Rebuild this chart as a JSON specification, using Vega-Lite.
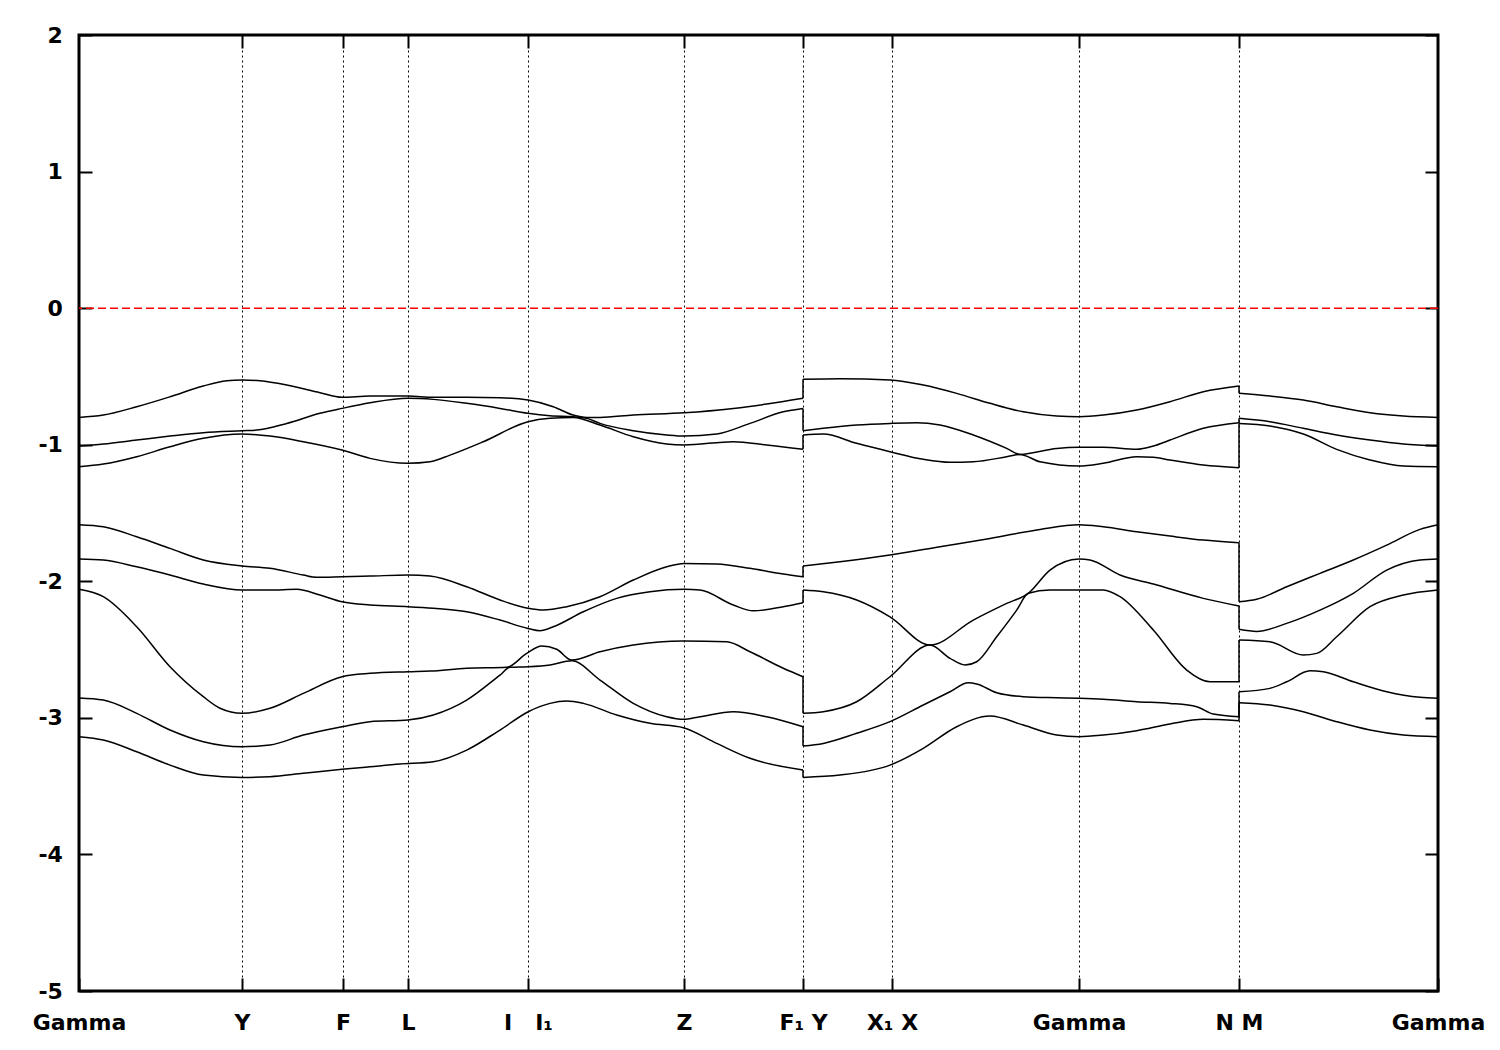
{
"$schema": "https://vega.github.io/schema/vega-lite/v6.json",
"width": 1359, "height": 956,
"autosize": {"type": "none"},
"padding": {"left": 79, "top": 35, "right": 62, "bottom": 59},
"background": "white",
"config": {
 "view": {"stroke": "black", "strokeWidth": 3},
 "axis": {"labelFont": "DejaVu Sans", "labelFontSize": 22, "labelFontWeight": "bold", "labelColor": "black", "tickColor": "black", "tickWidth": 2, "tickSize": -13, "domain": false, "grid": false, "labelFlush": false, "labelOverlap": false, "labelBound": false}
},
"datasets": {
"jumps": [
{"b":1,"k":7.24,"e1":-0.660,"e2":-0.521},{"b":1,"k":11.6,"e1":-0.570,"e2":-0.624},
{"b":2,"k":7.24,"e1":-0.734,"e2":-0.898},{"b":2,"k":11.6,"e1":-0.839,"e2":-0.807},
{"b":3,"k":7.24,"e1":-1.034,"e2":-0.929},{"b":3,"k":11.6,"e1":-1.169,"e2":-0.844},
{"b":4,"k":7.24,"e1":-1.967,"e2":-1.888},{"b":4,"k":11.6,"e1":-1.718,"e2":-2.150},
{"b":5,"k":7.24,"e1":-2.157,"e2":-2.064},{"b":5,"k":11.6,"e1":-2.181,"e2":-2.352},
{"b":6,"k":7.24,"e1":-2.699,"e2":-2.967},{"b":6,"k":11.6,"e1":-2.736,"e2":-2.430},
{"b":7,"k":7.24,"e1":-3.065,"e2":-3.206},{"b":7,"k":11.6,"e1":-2.992,"e2":-2.809},
{"b":8,"k":7.24,"e1":-3.382,"e2":-3.436},{"b":8,"k":11.6,"e1":-3.021,"e2":-2.889}
],
"bands": [
{"b":1,"s":1,"k":0,"e":-0.800},{"b":1,"s":1,"k":0.243,"e":-0.783},{"b":1,"s":1,"k":0.577,"e":-0.722},{"b":1,"s":1,"k":0.91,"e":-0.649},{"b":1,"s":1,"k":1.243,"e":-0.570},{"b":1,"s":1,"k":1.477,"e":-0.532},{"b":1,"s":1,"k":1.63,"e":-0.526},{"b":1,"s":1,"k":1.81,"e":-0.532},{"b":1,"s":1,"k":2.077,"e":-0.563},{"b":1,"s":1,"k":2.41,"e":-0.619},{"b":1,"s":1,"k":2.63,"e":-0.653},{"b":1,"s":1,"k":2.91,"e":-0.644},{"b":1,"s":1,"k":3.29,"e":-0.644},{"b":1,"s":1,"k":3.543,"e":-0.653},{"b":1,"s":1,"k":3.877,"e":-0.653},{"b":1,"s":1,"k":4.21,"e":-0.656},{"b":1,"s":1,"k":4.49,"e":-0.673},{"b":1,"s":1,"k":4.743,"e":-0.722},{"b":1,"s":1,"k":4.94,"e":-0.783},{"b":1,"s":1,"k":5.08,"e":-0.801},{"b":1,"s":1,"k":5.21,"e":-0.800},{"b":1,"s":1,"k":5.543,"e":-0.783},{"b":1,"s":1,"k":6.05,"e":-0.766},{"b":1,"s":1,"k":6.543,"e":-0.734},{"b":1,"s":1,"k":6.877,"e":-0.702},{"b":1,"s":1,"k":7.24,"e":-0.660},
{"b":1,"s":2,"k":7.24,"e":-0.521},{"b":1,"s":2,"k":7.61,"e":-0.517},{"b":1,"s":2,"k":8.11,"e":-0.526},{"b":1,"s":2,"k":8.443,"e":-0.563},{"b":1,"s":2,"k":8.777,"e":-0.624},{"b":1,"s":2,"k":9.11,"e":-0.697},{"b":1,"s":2,"k":9.443,"e":-0.759},{"b":1,"s":2,"k":9.777,"e":-0.790},{"b":1,"s":2,"k":10.0,"e":-0.795},{"b":1,"s":2,"k":10.243,"e":-0.783},{"b":1,"s":2,"k":10.577,"e":-0.746},{"b":1,"s":2,"k":10.91,"e":-0.685},{"b":1,"s":2,"k":11.243,"e":-0.612},{"b":1,"s":2,"k":11.6,"e":-0.570},
{"b":1,"s":3,"k":11.6,"e":-0.624},{"b":1,"s":3,"k":11.91,"e":-0.644},{"b":1,"s":3,"k":12.243,"e":-0.673},{"b":1,"s":3,"k":12.577,"e":-0.722},{"b":1,"s":3,"k":12.91,"e":-0.766},{"b":1,"s":3,"k":13.243,"e":-0.790},{"b":1,"s":3,"k":13.59,"e":-0.800},
{"b":2,"s":1,"k":0,"e":-1.010},{"b":2,"s":1,"k":0.243,"e":-0.995},{"b":2,"s":1,"k":0.577,"e":-0.966},{"b":2,"s":1,"k":0.91,"e":-0.937},{"b":2,"s":1,"k":1.243,"e":-0.912},{"b":2,"s":1,"k":1.63,"e":-0.898},{"b":2,"s":1,"k":1.777,"e":-0.893},{"b":2,"s":1,"k":2.077,"e":-0.844},{"b":2,"s":1,"k":2.41,"e":-0.770},{"b":2,"s":1,"k":2.63,"e":-0.734},{"b":2,"s":1,"k":2.91,"e":-0.693},{"b":2,"s":1,"k":3.29,"e":-0.660},{"b":2,"s":1,"k":3.543,"e":-0.668},{"b":2,"s":1,"k":3.877,"e":-0.697},{"b":2,"s":1,"k":4.21,"e":-0.734},{"b":2,"s":1,"k":4.49,"e":-0.770},{"b":2,"s":1,"k":4.71,"e":-0.788},{"b":2,"s":1,"k":4.943,"e":-0.795},{"b":2,"s":1,"k":5.08,"e":-0.807},{"b":2,"s":1,"k":5.21,"e":-0.844},{"b":2,"s":1,"k":5.543,"e":-0.898},{"b":2,"s":1,"k":5.877,"e":-0.929},{"b":2,"s":1,"k":6.05,"e":-0.937},{"b":2,"s":1,"k":6.377,"e":-0.922},{"b":2,"s":1,"k":6.71,"e":-0.844},{"b":2,"s":1,"k":7.043,"e":-0.759},{"b":2,"s":1,"k":7.24,"e":-0.734},
{"b":2,"s":2,"k":7.24,"e":-0.898},{"b":2,"s":2,"k":7.443,"e":-0.880},{"b":2,"s":2,"k":7.777,"e":-0.856},{"b":2,"s":2,"k":8.11,"e":-0.844},{"b":2,"s":2,"k":8.377,"e":-0.839},{"b":2,"s":2,"k":8.61,"e":-0.856},{"b":2,"s":2,"k":8.943,"e":-0.929},{"b":2,"s":2,"k":9.277,"e":-1.027},{"b":2,"s":2,"k":9.41,"e":-1.071},{"b":2,"s":2,"k":9.777,"e":-1.027},{"b":2,"s":2,"k":10.0,"e":-1.019},{"b":2,"s":2,"k":10.243,"e":-1.019},{"b":2,"s":2,"k":10.577,"e":-1.034},{"b":2,"s":2,"k":10.743,"e":-1.010},{"b":2,"s":2,"k":10.91,"e":-0.966},{"b":2,"s":2,"k":11.243,"e":-0.880},{"b":2,"s":2,"k":11.6,"e":-0.839},
{"b":2,"s":3,"k":11.6,"e":-0.807},{"b":2,"s":3,"k":11.91,"e":-0.832},{"b":2,"s":3,"k":12.243,"e":-0.880},{"b":2,"s":3,"k":12.577,"e":-0.929},{"b":2,"s":3,"k":12.91,"e":-0.966},{"b":2,"s":3,"k":13.243,"e":-0.995},{"b":2,"s":3,"k":13.59,"e":-1.010},
{"b":3,"s":1,"k":0,"e":-1.161},{"b":3,"s":1,"k":0.243,"e":-1.142},{"b":3,"s":1,"k":0.577,"e":-1.088},{"b":3,"s":1,"k":0.91,"e":-1.015},{"b":3,"s":1,"k":1.243,"e":-0.953},{"b":3,"s":1,"k":1.63,"e":-0.922},{"b":3,"s":1,"k":1.91,"e":-0.937},{"b":3,"s":1,"k":2.243,"e":-0.978},{"b":3,"s":1,"k":2.63,"e":-1.039},{"b":3,"s":1,"k":2.91,"e":-1.100},{"b":3,"s":1,"k":3.29,"e":-1.136},{"b":3,"s":1,"k":3.51,"e":-1.125},{"b":3,"s":1,"k":3.71,"e":-1.076},{"b":3,"s":1,"k":4.043,"e":-0.978},{"b":3,"s":1,"k":4.49,"e":-0.832},{"b":3,"s":1,"k":4.71,"e":-0.807},{"b":3,"s":1,"k":4.943,"e":-0.800},{"b":3,"s":1,"k":5.21,"e":-0.856},{"b":3,"s":1,"k":5.543,"e":-0.942},{"b":3,"s":1,"k":5.877,"e":-0.995},{"b":3,"s":1,"k":6.05,"e":-1.002},{"b":3,"s":1,"k":6.543,"e":-0.978},{"b":3,"s":1,"k":6.877,"e":-1.002},{"b":3,"s":1,"k":7.24,"e":-1.034},
{"b":3,"s":2,"k":7.24,"e":-0.929},{"b":3,"s":2,"k":7.443,"e":-0.922},{"b":3,"s":2,"k":7.777,"e":-0.990},{"b":3,"s":2,"k":8.11,"e":-1.051},{"b":3,"s":2,"k":8.443,"e":-1.107},{"b":3,"s":2,"k":8.71,"e":-1.129},{"b":3,"s":2,"k":8.943,"e":-1.125},{"b":3,"s":2,"k":9.277,"e":-1.088},{"b":3,"s":2,"k":9.41,"e":-1.071},{"b":3,"s":2,"k":9.61,"e":-1.125},{"b":3,"s":2,"k":10.0,"e":-1.156},{"b":3,"s":2,"k":10.243,"e":-1.136},{"b":3,"s":2,"k":10.577,"e":-1.088},{"b":3,"s":2,"k":10.743,"e":-1.092},{"b":3,"s":2,"k":10.91,"e":-1.112},{"b":3,"s":2,"k":11.243,"e":-1.149},{"b":3,"s":2,"k":11.6,"e":-1.169},
{"b":3,"s":3,"k":11.6,"e":-0.844},{"b":3,"s":3,"k":11.91,"e":-0.863},{"b":3,"s":3,"k":12.243,"e":-0.922},{"b":3,"s":3,"k":12.577,"e":-1.034},{"b":3,"s":3,"k":12.91,"e":-1.112},{"b":3,"s":3,"k":13.243,"e":-1.156},{"b":3,"s":3,"k":13.59,"e":-1.161},
{"b":4,"s":1,"k":0,"e":-1.586},{"b":4,"s":1,"k":0.243,"e":-1.601},{"b":4,"s":1,"k":0.577,"e":-1.674},{"b":4,"s":1,"k":0.91,"e":-1.759},{"b":4,"s":1,"k":1.243,"e":-1.844},{"b":4,"s":1,"k":1.63,"e":-1.888},{"b":4,"s":1,"k":1.91,"e":-1.905},{"b":4,"s":1,"k":2.243,"e":-1.954},{"b":4,"s":1,"k":2.377,"e":-1.971},{"b":4,"s":1,"k":2.63,"e":-1.967},{"b":4,"s":1,"k":2.91,"e":-1.962},{"b":4,"s":1,"k":3.29,"e":-1.954},{"b":4,"s":1,"k":3.51,"e":-1.962},{"b":4,"s":1,"k":3.877,"e":-2.040},{"b":4,"s":1,"k":4.21,"e":-2.137},{"b":4,"s":1,"k":4.49,"e":-2.198},{"b":4,"s":1,"k":4.643,"e":-2.211},{"b":4,"s":1,"k":4.877,"e":-2.186},{"b":4,"s":1,"k":5.21,"e":-2.113},{"b":4,"s":1,"k":5.543,"e":-1.991},{"b":4,"s":1,"k":5.877,"e":-1.894},{"b":4,"s":1,"k":6.05,"e":-1.869},{"b":4,"s":1,"k":6.377,"e":-1.874},{"b":4,"s":1,"k":6.71,"e":-1.905},{"b":4,"s":1,"k":7.043,"e":-1.947},{"b":4,"s":1,"k":7.24,"e":-1.967},
{"b":4,"s":2,"k":7.24,"e":-1.888},{"b":4,"s":2,"k":7.61,"e":-1.857},{"b":4,"s":2,"k":8.11,"e":-1.808},{"b":4,"s":2,"k":8.61,"e":-1.747},{"b":4,"s":2,"k":9.11,"e":-1.686},{"b":4,"s":2,"k":9.61,"e":-1.620},{"b":4,"s":2,"k":10.0,"e":-1.586},{"b":4,"s":2,"k":10.243,"e":-1.601},{"b":4,"s":2,"k":10.577,"e":-1.637},{"b":4,"s":2,"k":10.91,"e":-1.669},{"b":4,"s":2,"k":11.243,"e":-1.698},{"b":4,"s":2,"k":11.6,"e":-1.718},
{"b":4,"s":3,"k":11.6,"e":-2.150},{"b":4,"s":3,"k":11.777,"e":-2.132},{"b":4,"s":3,"k":12.077,"e":-2.040},{"b":4,"s":3,"k":12.41,"e":-1.942},{"b":4,"s":3,"k":12.743,"e":-1.844},{"b":4,"s":3,"k":13.077,"e":-1.735},{"b":4,"s":3,"k":13.41,"e":-1.620},{"b":4,"s":3,"k":13.59,"e":-1.586},
{"b":5,"s":1,"k":0,"e":-1.837},{"b":5,"s":1,"k":0.243,"e":-1.844},{"b":5,"s":1,"k":0.577,"e":-1.894},{"b":5,"s":1,"k":0.91,"e":-1.954},{"b":5,"s":1,"k":1.243,"e":-2.020},{"b":5,"s":1,"k":1.63,"e":-2.064},{"b":5,"s":1,"k":1.91,"e":-2.064},{"b":5,"s":1,"k":2.177,"e":-2.059},{"b":5,"s":1,"k":2.41,"e":-2.101},{"b":5,"s":1,"k":2.63,"e":-2.150},{"b":5,"s":1,"k":2.91,"e":-2.174},{"b":5,"s":1,"k":3.29,"e":-2.186},{"b":5,"s":1,"k":3.543,"e":-2.198},{"b":5,"s":1,"k":3.877,"e":-2.223},{"b":5,"s":1,"k":4.21,"e":-2.284},{"b":5,"s":1,"k":4.49,"e":-2.345},{"b":5,"s":1,"k":4.61,"e":-2.362},{"b":5,"s":1,"k":4.743,"e":-2.333},{"b":5,"s":1,"k":5.043,"e":-2.223},{"b":5,"s":1,"k":5.377,"e":-2.125},{"b":5,"s":1,"k":5.71,"e":-2.077},{"b":5,"s":1,"k":6.05,"e":-2.059},{"b":5,"s":1,"k":6.21,"e":-2.064},{"b":5,"s":1,"k":6.543,"e":-2.174},{"b":5,"s":1,"k":6.743,"e":-2.216},{"b":5,"s":1,"k":7.043,"e":-2.186},{"b":5,"s":1,"k":7.24,"e":-2.157},
{"b":5,"s":2,"k":7.24,"e":-2.064},{"b":5,"s":2,"k":7.443,"e":-2.077},{"b":5,"s":2,"k":7.777,"e":-2.137},{"b":5,"s":2,"k":8.11,"e":-2.260},{"b":5,"s":2,"k":8.51,"e":-2.467},{"b":5,"s":2,"k":8.943,"e":-2.284},{"b":5,"s":2,"k":9.277,"e":-2.162},{"b":5,"s":2,"k":9.493,"e":-2.088},{"b":5,"s":2,"k":9.71,"e":-1.918},{"b":5,"s":2,"k":10.0,"e":-1.837},{"b":5,"s":2,"k":10.11,"e":-1.844},{"b":5,"s":2,"k":10.41,"e":-1.954},{"b":5,"s":2,"k":10.743,"e":-2.020},{"b":5,"s":2,"k":11.243,"e":-2.125},{"b":5,"s":2,"k":11.6,"e":-2.181},
{"b":5,"s":3,"k":11.6,"e":-2.352},{"b":5,"s":3,"k":11.777,"e":-2.367},{"b":5,"s":3,"k":12.077,"e":-2.308},{"b":5,"s":3,"k":12.41,"e":-2.211},{"b":5,"s":3,"k":12.743,"e":-2.088},{"b":5,"s":3,"k":13.077,"e":-1.918},{"b":5,"s":3,"k":13.41,"e":-1.844},{"b":5,"s":3,"k":13.59,"e":-1.837},
{"b":6,"s":1,"k":0,"e":-2.059},{"b":6,"s":1,"k":0.243,"e":-2.113},{"b":6,"s":1,"k":0.577,"e":-2.333},{"b":6,"s":1,"k":0.91,"e":-2.626},{"b":6,"s":1,"k":1.243,"e":-2.845},{"b":6,"s":1,"k":1.41,"e":-2.930},{"b":6,"s":1,"k":1.63,"e":-2.967},{"b":6,"s":1,"k":1.91,"e":-2.930},{"b":6,"s":1,"k":2.243,"e":-2.821},{"b":6,"s":1,"k":2.63,"e":-2.699},{"b":6,"s":1,"k":2.91,"e":-2.674},{"b":6,"s":1,"k":3.29,"e":-2.662},{"b":6,"s":1,"k":3.51,"e":-2.657},{"b":6,"s":1,"k":3.877,"e":-2.637},{"b":6,"s":1,"k":4.277,"e":-2.630},{"b":6,"s":1,"k":4.477,"e":-2.528},{"b":6,"s":1,"k":4.627,"e":-2.474},{"b":6,"s":1,"k":4.777,"e":-2.498},{"b":6,"s":1,"k":4.927,"e":-2.577},{"b":6,"s":1,"k":5.21,"e":-2.516},{"b":6,"s":1,"k":5.543,"e":-2.467},{"b":6,"s":1,"k":6.043,"e":-2.438},{"b":6,"s":1,"k":6.477,"e":-2.443},{"b":6,"s":1,"k":6.71,"e":-2.516},{"b":6,"s":1,"k":7.043,"e":-2.637},{"b":6,"s":1,"k":7.24,"e":-2.699},
{"b":6,"s":2,"k":7.24,"e":-2.967},{"b":6,"s":2,"k":7.443,"e":-2.955},{"b":6,"s":2,"k":7.777,"e":-2.882},{"b":6,"s":2,"k":8.11,"e":-2.699},{"b":6,"s":2,"k":8.51,"e":-2.467},{"b":6,"s":2,"k":8.71,"e":-2.564},{"b":6,"s":2,"k":8.86,"e":-2.613},{"b":6,"s":2,"k":8.977,"e":-2.589},{"b":6,"s":2,"k":9.177,"e":-2.406},{"b":6,"s":2,"k":9.377,"e":-2.211},{"b":6,"s":2,"k":9.493,"e":-2.088},{"b":6,"s":2,"k":9.71,"e":-2.064},{"b":6,"s":2,"k":10.0,"e":-2.064},{"b":6,"s":2,"k":10.243,"e":-2.064},{"b":6,"s":2,"k":10.41,"e":-2.113},{"b":6,"s":2,"k":10.743,"e":-2.357},{"b":6,"s":2,"k":11.077,"e":-2.650},{"b":6,"s":2,"k":11.31,"e":-2.736},{"b":6,"s":2,"k":11.6,"e":-2.736},
{"b":6,"s":3,"k":11.6,"e":-2.430},{"b":6,"s":3,"k":11.91,"e":-2.443},{"b":6,"s":3,"k":12.243,"e":-2.540},{"b":6,"s":3,"k":12.377,"e":-2.528},{"b":6,"s":3,"k":12.577,"e":-2.406},{"b":6,"s":3,"k":12.91,"e":-2.186},{"b":6,"s":3,"k":13.243,"e":-2.101},{"b":6,"s":3,"k":13.59,"e":-2.064},
{"b":7,"s":1,"k":0,"e":-2.855},{"b":7,"s":1,"k":0.243,"e":-2.870},{"b":7,"s":1,"k":0.577,"e":-2.967},{"b":7,"s":1,"k":0.91,"e":-3.089},{"b":7,"s":1,"k":1.243,"e":-3.175},{"b":7,"s":1,"k":1.63,"e":-3.212},{"b":7,"s":1,"k":1.91,"e":-3.199},{"b":7,"s":1,"k":2.243,"e":-3.126},{"b":7,"s":1,"k":2.63,"e":-3.065},{"b":7,"s":1,"k":2.91,"e":-3.028},{"b":7,"s":1,"k":3.29,"e":-3.016},{"b":7,"s":1,"k":3.543,"e":-2.979},{"b":7,"s":1,"k":3.877,"e":-2.870},{"b":7,"s":1,"k":4.21,"e":-2.687},{"b":7,"s":1,"k":4.31,"e":-2.630},{"b":7,"s":1,"k":4.493,"e":-2.626},{"b":7,"s":1,"k":4.71,"e":-2.613},{"b":7,"s":1,"k":4.927,"e":-2.582},{"b":7,"s":1,"k":5.21,"e":-2.723},{"b":7,"s":1,"k":5.543,"e":-2.894},{"b":7,"s":1,"k":5.877,"e":-2.992},{"b":7,"s":1,"k":6.043,"e":-3.011},{"b":7,"s":1,"k":6.21,"e":-2.992},{"b":7,"s":1,"k":6.543,"e":-2.955},{"b":7,"s":1,"k":6.877,"e":-2.992},{"b":7,"s":1,"k":7.24,"e":-3.065},
{"b":7,"s":2,"k":7.24,"e":-3.206},{"b":7,"s":2,"k":7.443,"e":-3.187},{"b":7,"s":2,"k":7.777,"e":-3.113},{"b":7,"s":2,"k":8.11,"e":-3.028},{"b":7,"s":2,"k":8.443,"e":-2.906},{"b":7,"s":2,"k":8.71,"e":-2.809},{"b":7,"s":2,"k":8.893,"e":-2.743},{"b":7,"s":2,"k":8.977,"e":-2.752},{"b":7,"s":2,"k":9.177,"e":-2.816},{"b":7,"s":2,"k":9.443,"e":-2.845},{"b":7,"s":2,"k":9.777,"e":-2.853},{"b":7,"s":2,"k":10.0,"e":-2.857},{"b":7,"s":2,"k":10.243,"e":-2.864},{"b":7,"s":2,"k":10.577,"e":-2.882},{"b":7,"s":2,"k":10.91,"e":-2.894},{"b":7,"s":2,"k":11.177,"e":-2.919},{"b":7,"s":2,"k":11.343,"e":-2.972},{"b":7,"s":2,"k":11.6,"e":-2.992},
{"b":7,"s":3,"k":11.6,"e":-2.809},{"b":7,"s":3,"k":11.91,"e":-2.784},{"b":7,"s":3,"k":12.077,"e":-2.736},{"b":7,"s":3,"k":12.31,"e":-2.655},{"b":7,"s":3,"k":12.443,"e":-2.662},{"b":7,"s":3,"k":12.743,"e":-2.736},{"b":7,"s":3,"k":13.077,"e":-2.809},{"b":7,"s":3,"k":13.41,"e":-2.850},{"b":7,"s":3,"k":13.59,"e":-2.857},
{"b":8,"s":1,"k":0,"e":-3.138},{"b":8,"s":1,"k":0.243,"e":-3.162},{"b":8,"s":1,"k":0.577,"e":-3.248},{"b":8,"s":1,"k":0.91,"e":-3.346},{"b":8,"s":1,"k":1.243,"e":-3.419},{"b":8,"s":1,"k":1.63,"e":-3.436},{"b":8,"s":1,"k":1.91,"e":-3.431},{"b":8,"s":1,"k":2.243,"e":-3.406},{"b":8,"s":1,"k":2.63,"e":-3.377},{"b":8,"s":1,"k":2.91,"e":-3.358},{"b":8,"s":1,"k":3.21,"e":-3.338},{"b":8,"s":1,"k":3.543,"e":-3.321},{"b":8,"s":1,"k":3.877,"e":-3.236},{"b":8,"s":1,"k":4.21,"e":-3.089},{"b":8,"s":1,"k":4.493,"e":-2.955},{"b":8,"s":1,"k":4.71,"e":-2.894},{"b":8,"s":1,"k":4.877,"e":-2.877},{"b":8,"s":1,"k":5.043,"e":-2.894},{"b":8,"s":1,"k":5.377,"e":-2.979},{"b":8,"s":1,"k":5.71,"e":-3.040},{"b":8,"s":1,"k":6.043,"e":-3.072},{"b":8,"s":1,"k":6.377,"e":-3.187},{"b":8,"s":1,"k":6.71,"e":-3.296},{"b":8,"s":1,"k":7.24,"e":-3.382},
{"b":8,"s":2,"k":7.24,"e":-3.436},{"b":8,"s":2,"k":7.61,"e":-3.419},{"b":8,"s":2,"k":8.11,"e":-3.346},{"b":8,"s":2,"k":8.443,"e":-3.223},{"b":8,"s":2,"k":8.777,"e":-3.065},{"b":8,"s":2,"k":9.11,"e":-2.987},{"b":8,"s":2,"k":9.443,"e":-3.053},{"b":8,"s":2,"k":9.777,"e":-3.126},{"b":8,"s":2,"k":10.0,"e":-3.138},{"b":8,"s":2,"k":10.243,"e":-3.126},{"b":8,"s":2,"k":10.577,"e":-3.094},{"b":8,"s":2,"k":10.91,"e":-3.045},{"b":8,"s":2,"k":11.243,"e":-3.011},{"b":8,"s":2,"k":11.6,"e":-3.021},
{"b":8,"s":3,"k":11.6,"e":-2.889},{"b":8,"s":3,"k":11.91,"e":-2.906},{"b":8,"s":3,"k":12.243,"e":-2.955},{"b":8,"s":3,"k":12.577,"e":-3.028},{"b":8,"s":3,"k":12.91,"e":-3.089},{"b":8,"s":3,"k":13.243,"e":-3.126},{"b":8,"s":3,"k":13.59,"e":-3.138}
]},
"layer": [
 {"data": {"name": "bands"},
  "mark": {"type": "line", "color": "black", "strokeWidth": 1.5, "interpolate": "monotone"},
  "encoding": {
   "x": {"field": "k", "type": "quantitative", "scale": {"domain": [0, 13.59], "nice": false, "zero": false},
     "axis": {"orient": "bottom", "title": null, "values": [0, 1.63, 2.64, 3.29, 4.49, 6.05, 7.24, 8.13, 10.0, 11.6, 13.59],
       "labelExpr": "datum.value < 0.5 ? 'Gamma' : datum.value < 2 ? 'Y' : datum.value < 3 ? 'F' : datum.value < 4 ? 'L' : datum.value < 5 ? 'I\u00a0\u00a0\u00a0I₁' : datum.value < 7 ? 'Z' : datum.value < 7.5 ? 'F₁\u00a0Y' : datum.value < 9 ? 'X₁\u00a0X' : datum.value < 11 ? 'Gamma' : datum.value < 12 ? 'N\u00a0M' : 'Gamma'",
       "grid": true, "gridColor": "black", "gridDash": [2, 3], "gridWidth": 1, "gridOpacity": 1, "labelPadding": 34}},
   "y": {"field": "e", "type": "quantitative", "scale": {"domain": [-5, 2], "nice": false, "zero": false},
     "axis": {"orient": "left", "title": null, "values": [-5, -4, -3, -2, -1, 0, 1, 2], "labelExpr": "'' + datum.value", "labelPadding": 29.6}},
   "detail": [{"field": "b", "type": "nominal"}, {"field": "s", "type": "nominal"}]
  }
 },
 {"data": {"name": "jumps"},
  "mark": {"type": "rule", "color": "black", "strokeWidth": 1.5},
  "encoding": {
   "x": {"field": "k", "type": "quantitative", "axis": null},
   "y": {"field": "e1", "type": "quantitative", "axis": null},
   "y2": {"field": "e2"}
  }
 },
 {"data": {"values": [{}]},
  "mark": {"type": "rule", "color": "red", "strokeDash": [8, 4], "strokeWidth": 1.5},
  "encoding": {"y": {"datum": 0, "type": "quantitative", "axis": null}}
 },
 {"data": {"values": [{"k": 0, "e": 0}]},
  "mark": {"type": "point", "opacity": 0},
  "encoding": {
   "x": {"field": "k", "type": "quantitative", "axis": {"orient": "top", "title": null, "labels": false, "values": [1.63, 2.64, 3.29, 4.49, 6.05, 7.24, 8.13, 10.0, 11.6]}},
   "y": {"field": "e", "type": "quantitative", "axis": {"orient": "right", "title": null, "labels": false, "values": [-5, -4, -3, -2, -1, 0, 1, 2]}}
  }
 }
],
"resolve": {"axis": {"x": "independent", "y": "independent"}}
}
